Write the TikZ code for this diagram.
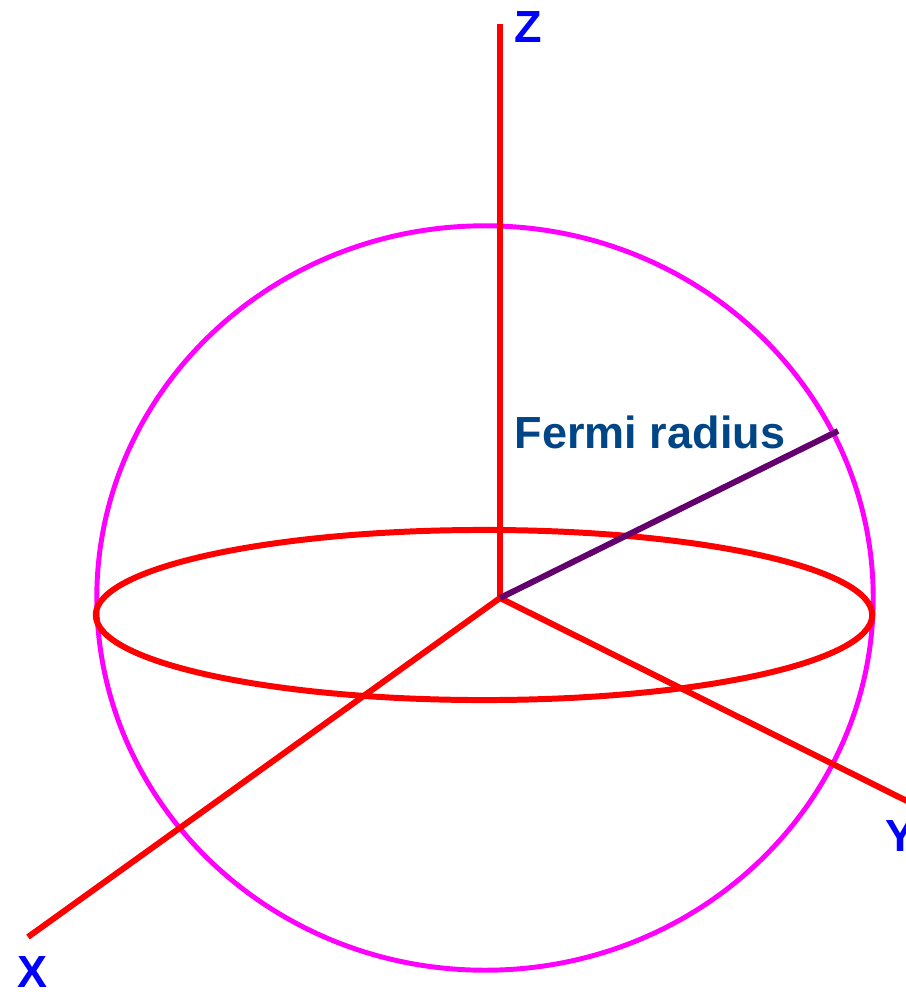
\documentclass[tikz,border=0pt]{standalone}
\usepackage{fontspec}
\setmainfont{Liberation Sans}
\usepackage{tikz}
\definecolor{axisred}{RGB}{255,0,0}
\definecolor{spheremag}{RGB}{255,0,255}
\definecolor{radpurple}{RGB}{100,0,110}
\definecolor{labelblue}{RGB}{0,0,255}
\definecolor{fermiblue}{RGB}{0,70,135}

\begin{document}
\begin{tikzpicture}[x=0.01cm, y=-0.01cm]
        \tikzstyle{axis} = [draw=axisred, line width=1.7pt]
        \tikzstyle{sphere} = [draw=spheremag, line width=1.4pt]
        \tikzstyle{radius} = [draw=radpurple, line width=1.7pt]
        \tikzstyle{axlabel} = [text=labelblue, font=\fontsize{12.8}{15}\selectfont\bfseries, inner sep=0pt]

\useasboundingbox (0,0) rectangle (905,994);

\coordinate (origin) at (500,598);
        \coordinate (zend) at (500,24);
        \coordinate (xend) at (28,937);
        \coordinate (yend) at (925,810);
        \coordinate (kF) at (838,431);

\draw[sphere] (485,598) ellipse [x radius=3.88cm, y radius=3.72cm];
        \draw[axis] (484,615) ellipse [x radius=3.88cm, y radius=0.85cm];

\draw[axis] (origin) -- (zend);
        \draw[axis] (origin) -- (xend);
        \draw[axis] (origin) -- (yend);
        \draw[radius] (origin) -- (kF);

\node[axlabel] (zlabel) at (528,27) {Z};
        \node[axlabel] (xlabel) at (33,972) {X};
        \node[axlabel] (ylabel) at (900,836) {Y};
        \node[axlabel, text=fermiblue] (fermi) at (650,432) {Fermi radius};

    \end{tikzpicture}
\end{document}
